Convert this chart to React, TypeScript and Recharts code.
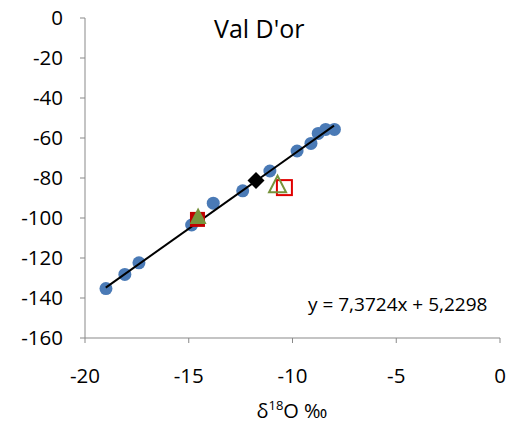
import { ScatterChart, Scatter, XAxis, YAxis } from 'recharts';

// blue samples (δ18O, δD)
const sampleX = [-18.99, -18.08, -17.4, -14.86, -13.82, -12.4, -11.09, -9.78, -9.11, -8.76, -8.4, -7.98];
const sampleY = [-135.3, -128.2, -122.4, -103.5, -92.6, -86.4, -76.5, -66.5, -62.7, -57.7, -55.7, -55.7];

const diamondPt = [{ x: -11.76, y: -81.2 }];
const redFilled = [{ x: -14.58, y: -100.7 }];
const greenFilled = [{ x: -14.55, y: -100.3 }];
const redOpen = [{ x: -10.39, y: -84.8 }];
const greenOpen = [{ x: -10.72, y: -84.4 }];

// trendline end points
const trend = [
  { x: -19.0, y: -134.8 },
  { x: -8.0, y: -53.8 },
];

const xTicks = [-20, -15, -10, -5, 0];
const yTicks = [0, -20, -40, -60, -80, -100, -120, -140, -160];

const samples = sampleX.map((x, i) => ({ x, y: sampleY[i] }));

const FONT = "'Open Sans', sans-serif";
const AXIS = '#898989';

const Dot = (p: any) => <circle cx={p.cx} cy={p.cy} r={6.5} fill="#4a7ab6" />;
const Diamond = (p: any) => (
  <polygon
    points={`${p.cx},${p.cy - 8.5} ${p.cx + 8.5},${p.cy} ${p.cx},${p.cy + 8.5} ${p.cx - 8.5},${p.cy}`}
    fill="#000"
  />
);
const Square = (open: boolean) => (p: any) => (
  <rect
    x={p.cx - 7.5}
    y={p.cy - 7.5}
    width={15}
    height={15}
    fill={open ? '#fff' : '#c00000'}
    stroke={open ? '#e00000' : '#c00000'}
    strokeWidth={open ? 2 : 0}
  />
);
const Triangle = (open: boolean) => (p: any) => (
  <polygon
    points={`${p.cx},${p.cy - 11} ${p.cx + 8.5},${p.cy + 5.5} ${p.cx - 8.5},${p.cy + 5.5}`}
    fill={open ? 'none' : '#77933c'}
    stroke="#77933c"
    strokeWidth={open ? 2 : 0}
  />
);
const NoShape = () => <g />;

export default function App() {
  return (
    <div style={{ position: 'absolute', left: 0, top: 0, width: 512, height: 427, background: '#fff', fontFamily: FONT }}>
      <ScatterChart width={512} height={427} margin={{ top: 18, right: 12, bottom: 0, left: 0 }}>
        <XAxis
          type="number"
          dataKey="x"
          domain={[-20, 0]}
          ticks={xTicks}
          height={89}
          tickSize={5}
          tickMargin={25}
          stroke={AXIS}
          tick={{ fill: '#000', fontSize: 20.5, fontFamily: FONT }}
        />
        <YAxis
          type="number"
          dataKey="y"
          domain={[-160, 0]}
          ticks={yTicks}
          width={85}
          tickSize={5}
          tickMargin={17}
          stroke={AXIS}
          tick={{ fill: '#000', fontSize: 20.5, fontFamily: FONT }}
        />
        <Scatter data={samples} shape={Dot} isAnimationActive={false} />
        <Scatter
          data={trend}
          line={{ stroke: '#000', strokeWidth: 2 }}
          shape={NoShape}
          isAnimationActive={false}
        />
        <Scatter data={diamondPt} shape={Diamond} isAnimationActive={false} />
        <Scatter data={redFilled} shape={Square(false)} isAnimationActive={false} />
        <Scatter data={greenFilled} shape={Triangle(false)} isAnimationActive={false} />
        <Scatter data={redOpen} shape={Square(true)} isAnimationActive={false} />
        <Scatter data={greenOpen} shape={Triangle(true)} isAnimationActive={false} />
      </ScatterChart>
      <div style={{ position: 'absolute', left: 214, top: 16, fontSize: 25, lineHeight: 1 }}>Val D'or</div>
      <div style={{ position: 'absolute', left: 308, top: 295, fontSize: 19, lineHeight: 1 }}>
        y = 7,3724x + 5,2298
      </div>
      <div style={{ position: 'absolute', left: 0, width: 584, top: 401, fontSize: 20, lineHeight: 1, textAlign: 'center' }}>
        δ<sup style={{ fontSize: 13, lineHeight: 0 }}>18</sup>O ‰
      </div>
    </div>
  );
}
